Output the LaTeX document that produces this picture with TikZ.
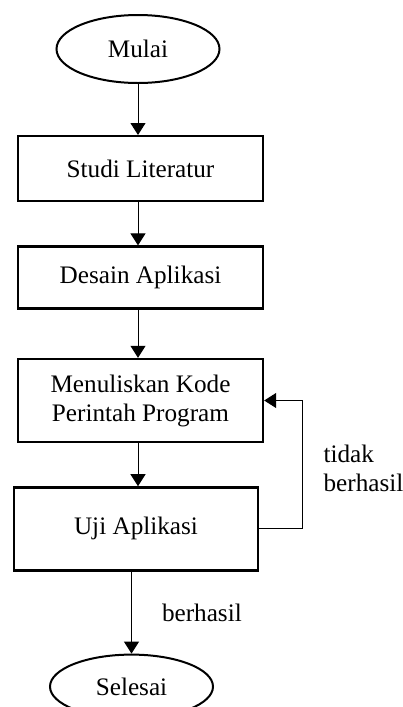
\documentclass[tikz,border=0pt]{standalone}
\usepackage{fontspec}
\setmainfont{Liberation Serif}
\usepackage{tikz}
\usetikzlibrary{ arrows.meta, calc, positioning, shapes.geometric }
\tikzset{
>={Triangle[length=6pt,width=7.5pt]}, % filled arrow heads
every node/.style={inner sep=1pt, font=\fontsize{12.6}{14.5}\selectfont},
terminal/.style={ellipse, draw, line width=1pt, minimum width=81.5pt, minimum height=34pt}, % start and end
process/.style={rectangle, draw, line width=1.2pt, minimum width=122.5pt, align=center}, % one step
}

\begin{document}
\begin{tikzpicture}[node distance=1cm]%fix the page size
  \useasboundingbox (0,0) rectangle (201pt,-353.5pt);
  \node[terminal] (s0) at (69pt,-24.5pt) {Mulai};
  \node[process, minimum height=32.5pt, below=25.5pt of s0, xshift=1.25pt] (s1) {Studi Literatur};
  \node[process, minimum height=31pt, below=21.5pt of s1] (s2) {Desain Aplikasi};
  \node[process, minimum height=41.5pt, below=24pt of s2] (s3) {Menuliskan Kode\\Perintah Program};
  \node[process, minimum width=122pt, minimum height=41.5pt, below=21.5pt of s3, xshift=-2.25pt] (s4) {Uji Aplikasi};
  \node[terminal, minimum height=32pt, below=41pt of s4, xshift=-2.25pt] (s5) {Selesai};

  \path[->, line width=0.5pt]
  (s0) edge (s0 |- s1.north)
  (s1.south -| s0) edge (s0 |- s2.north)
  (s2.south -| s0) edge (s0 |- s3.north)
  (s3.south -| s0) edge (s0 |- s4.north)
  (s4.south -| s5) edge node[right=14pt]{berhasil} (s5);

  \draw[->, line width=0.5pt] (s4.east) -- ++(21.5pt,0) coordinate (turn) |- (s3.east);
  \node[align=left, anchor=west] (n1) at ([shift={(9.5pt,30.5pt)}]turn) {tidak\\berhasil};
\end{tikzpicture}
\end{document}
